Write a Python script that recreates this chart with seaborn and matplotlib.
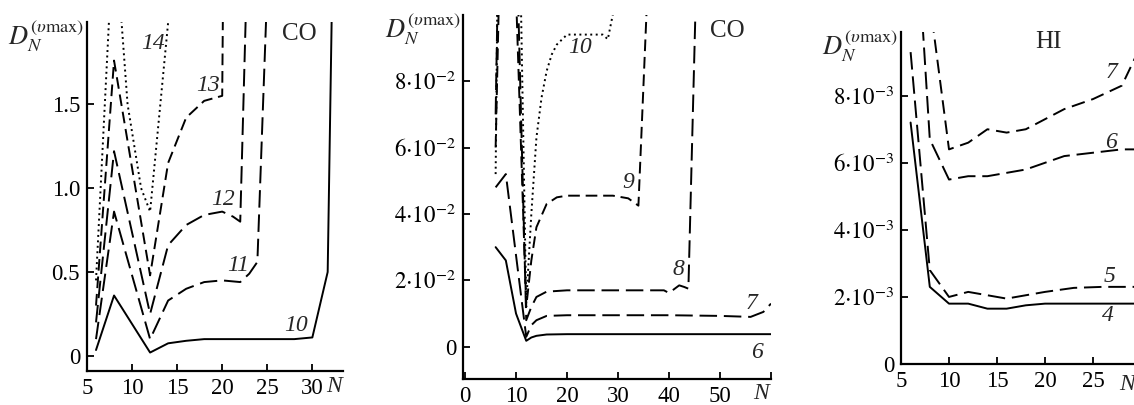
import numpy as np
import pandas as pd
import matplotlib
matplotlib.use("Agg")
import matplotlib.pyplot as plt
import seaborn as sns

# ---------------- data: panel 1 (CO, curves 10-14) ----------------
p1_n10 = [6, 8, 12, 14, 16, 18, 20, 22, 24, 26, 28, 30, 31.7, 32.2]
p1_d10 = [0.035, 0.36, 0.02, 0.075, 0.09, 0.10, 0.10, 0.10, 0.10, 0.10, 0.10, 0.11, 0.50, 2.2]
p1_n11 = [6, 8, 12, 14, 16, 18, 20, 22, 23, 23.9, 25]
p1_d11 = [0.10, 0.86, 0.10, 0.33, 0.40, 0.44, 0.45, 0.44, 0.49, 0.56, 2.2]
p1_n12 = [6, 8, 12, 14, 16, 18, 20, 21.2, 22, 22.7]
p1_d12 = [0.20, 1.22, 0.25, 0.66, 0.78, 0.84, 0.86, 0.83, 0.80, 2.2]
p1_n13 = [6, 8, 12, 14, 16, 18, 20, 20.1]
p1_d13 = [0.30, 1.76, 0.48, 1.15, 1.42, 1.52, 1.55, 2.2]
p1_n14 = [6, 8, 9.5, 11, 12, 14.2]
p1_d14 = [0.45, 2.6, 1.5, 1.0, 0.86, 2.1]

# ---------------- data: panel 2 (CO, curves 6-10) ----------------
p2_n6 = [6, 8, 10, 12, 13, 14, 16, 20, 30, 40, 50, 60]
p2_d6 = [0.030, 0.026, 0.010, 0.0018, 0.0028, 0.0033, 0.0037, 0.0038, 0.0038, 0.0038, 0.0038, 0.0038]
p2_n7 = [6, 8, 12, 13, 14, 16, 20, 30, 40, 50, 56, 58.5, 60]
p2_d7 = [0.048, 0.052, 0.003, 0.0065, 0.008, 0.0093, 0.0095, 0.0095, 0.0095, 0.0093, 0.009, 0.0105, 0.013]
p2_n8 = [6, 8, 12, 13, 14, 16, 20, 30, 39, 40, 42, 43, 43.8, 45.2]
p2_d8 = [0.07, 0.25, 0.008, 0.012, 0.015, 0.0166, 0.017, 0.017, 0.017, 0.0162, 0.0185, 0.018, 0.0175, 0.102]
p2_n9 = [6, 8, 12, 13, 14, 16, 18, 20, 25, 29, 32, 34, 35.6]
p2_d9 = [0.06, 0.20, 0.012, 0.026, 0.036, 0.043, 0.045, 0.0455, 0.0455, 0.0455, 0.0447, 0.0425, 0.101]
p2_n10 = [6, 8, 12, 13, 14, 15, 16, 17, 18, 20, 27, 28, 29.5]
p2_d10 = [0.052, 0.36, 0.013, 0.04, 0.063, 0.075, 0.083, 0.088, 0.091, 0.094, 0.094, 0.0926, 0.104]

# ---------------- data: panel 3 (HI, curves 4-7) ----------------
p3_n4 = [6, 8, 10, 12, 14, 16, 18, 20, 25, 30]
p3_d4 = [0.0072, 0.0023, 0.0018, 0.0018, 0.00165, 0.00165, 0.00175, 0.0018, 0.0018, 0.0018]
p3_n5 = [6, 8, 10, 12, 14, 16, 18, 20, 23, 26, 30]
p3_d5 = [0.0093, 0.0028, 0.0020, 0.00215, 0.00205, 0.00195, 0.00205, 0.00215, 0.00227, 0.0023, 0.0023]
p3_n6 = [6, 8, 10, 12, 14, 16, 18, 20, 22, 25, 28, 30]
p3_d6 = [0.0158, 0.0067, 0.0055, 0.0056, 0.0056, 0.0057, 0.0058, 0.0060, 0.0062, 0.0063, 0.0064, 0.0064]
p3_n7 = [6, 8, 10, 12, 14, 16, 18, 20, 22, 25, 28, 30]
p3_d7 = [0.020, 0.0108, 0.0064, 0.0066, 0.0070, 0.0069, 0.0070, 0.0073, 0.0076, 0.0079, 0.0083, 0.0095]

# tick labels
p1_xticks = [5, 10, 15, 20, 25, 30]
p1_yticks = [0, 0.5, 1.0, 1.5]
p1_ylabels = ["0", "0.5", "1.0", "1.5"]
p2_xticks = [0, 10, 20, 30, 40, 50, 60]
p2_xlabels = ["0", "10", "20", "30", "40", "50", ""]
p2_yticks = [0, 0.02, 0.04, 0.06, 0.08]
p2_ylabels = ["0", r"$2{\cdot}10^{-2}$", r"$4{\cdot}10^{-2}$", r"$6{\cdot}10^{-2}$", r"$8{\cdot}10^{-2}$"]
p3_xticks = [5, 10, 15, 20, 25]
p3_yticks = [0, 0.002, 0.004, 0.006, 0.008]
p3_ylabels = ["0", r"$2{\cdot}10^{-3}$", r"$4{\cdot}10^{-3}$", r"$6{\cdot}10^{-3}$", r"$8{\cdot}10^{-3}$"]

sns.set_style("ticks")
plt.rcParams["font.family"] = ["Liberation Serif", "DejaVu Serif"]
plt.rcParams["mathtext.fontset"] = "stix"

SOLID = "-"
LONG = (0, (9, 3.5))
MED = (0, (6, 3))
DOT = (0, (1, 1.8))

W, H = 1134, 405
fig = plt.figure(figsize=(W / 100, H / 100), dpi=100)


def box(l, r, t, b):
    return [l / W, 1 - b / H, (r - l) / W, (b - t) / H]


ax1 = fig.add_axes(box(87, 343, 22, 371))
ax2 = fig.add_axes(box(463, 771, 15, 379))
ax3 = fig.add_axes(box(901, 1134, 32, 364))


def draw(ax, n, d, ls, lw=1.4):
    df = pd.DataFrame({"N": n, "D": d})
    sns.lineplot(data=df, x="N", y="D", ax=ax, sort=False, estimator=None,
                 color="black", linewidth=lw, linestyle=ls)


for n, d, ls in [(p1_n10, p1_d10, SOLID), (p1_n11, p1_d11, LONG), (p1_n12, p1_d12, LONG),
                 (p1_n13, p1_d13, MED), (p1_n14, p1_d14, DOT)]:
    draw(ax1, n, d, ls)
for n, d, ls in [(p2_n6, p2_d6, SOLID), (p2_n7, p2_d7, LONG), (p2_n8, p2_d8, LONG),
                 (p2_n9, p2_d9, MED), (p2_n10, p2_d10, DOT)]:
    draw(ax2, n, d, ls)
for n, d, ls in [(p3_n4, p3_d4, SOLID), (p3_n5, p3_d5, LONG), (p3_n6, p3_d6, LONG),
                 (p3_n7, p3_d7, (0, (7, 3.5)))]:
    draw(ax3, n, d, ls)

ax1.set_xlim(5, 33.4)
ax1.set_ylim(-0.09, 1.99)
ax1.set_xticks(p1_xticks)
ax1.set_yticks(p1_yticks)
ax1.set_yticklabels(p1_ylabels)

ax2.set_xlim(-0.4, 60)
ax2.set_ylim(-0.0097, 0.0999)
ax2.set_xticks(p2_xticks)
ax2.set_xticklabels(p2_xlabels)
ax2.set_yticks(p2_yticks)
ax2.set_yticklabels(p2_ylabels)

ax3.set_xlim(5, 29.27)
ax3.set_ylim(0, 0.0099)
ax3.set_xticks(p3_xticks)
ax3.set_yticks(p3_yticks)
ax3.set_yticklabels(p3_ylabels)

for ax in (ax1, ax2, ax3):
    ax.set_xlabel("")
    ax.set_ylabel("")
    for s in ("top", "right"):
        ax.spines[s].set_visible(False)
    for s in ("left", "bottom"):
        ax.spines[s].set_linewidth(1.6)
        ax.spines[s].set_color("black")
    ax.tick_params(direction="in", length=5, width=1.3, labelsize=16.5, pad=5,
                   colors="black")
    ax.set_facecolor("none")

ylab = r"$D_N^{(\upsilon{\rm max})}$"
fs_lab = 19
fig.text(84 / W, 1 - 18 / H, ylab, ha="right", va="top", fontsize=fs_lab)
fig.text(461 / W, 1 - 11 / H, ylab, ha="right", va="top", fontsize=fs_lab)
fig.text(898 / W, 1 - 28 / H, ylab, ha="right", va="top", fontsize=fs_lab)

# N axis labels
it = dict(style="italic", fontsize=17, ha="center", va="center")
ax1.text(32.4, -0.185, "N", clip_on=False, **it)
ax2.text(58, -0.0142, "N", clip_on=False, **it)
ax3.text(28.5, -0.00062, "N", clip_on=False, **it)

# curve labels
for ax, items in [
    (ax1, [(28.2, 0.18, "10"), (21.8, 0.54, "11"), (20.1, 0.93, "12"), (18.4, 1.61, "13"), (12.3, 1.86, "14")]),
    (ax2, [(22.5, 0.090, "10"), (32.0, 0.0496, "9"), (41.8, 0.0232, "8"), (56.1, 0.0129, "7"), (57.3, -0.0018, "6")]),
    (ax3, [(26.9, 0.0087, "7"), (26.9, 0.0066, "6"), (26.7, 0.0026, "5"), (26.6, 0.00146, "4")]),
]:
    for x, y, s in items:
        ax.text(x, y, s, **it)

ax1.text(28.6, 1.92, "CO", fontsize=18, ha="center", va="center")
ax2.text(51.4, 0.095, "CO", fontsize=18, ha="center", va="center")
ax3.text(20.4, 0.0096, "HI", fontsize=18, ha="center", va="center")

fig.savefig("out.png", dpi=100, facecolor="white")
